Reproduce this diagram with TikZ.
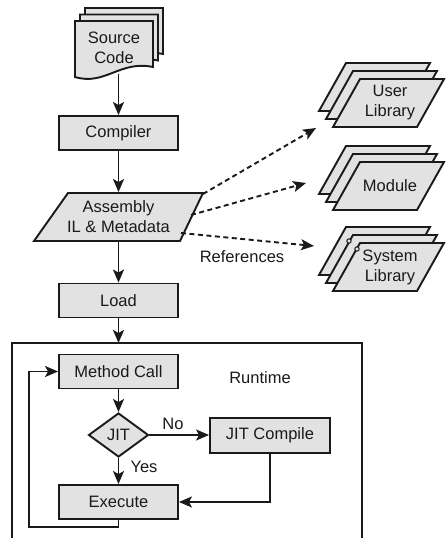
\documentclass[tikz,border=0pt]{standalone}
\usepackage{fontspec}
\setmainfont{Liberation Sans}
\usetikzlibrary{arrows.meta,shapes.geometric}
\definecolor{boxgray}{HTML}{E2E2E2}
\definecolor{ink}{HTML}{1A1A1A}
\begin{document}
\begin{tikzpicture}[x=1pt,y=-1pt,
  line width=1.9pt, draw=ink,
  every node/.style={font=\fontsize{16.5}{20}\selectfont, text=ink},
  box/.style={draw=ink, fill=boxgray, line width=1.9pt, minimum width=119pt, minimum height=34pt, inner sep=0pt},
  shapefill/.style={draw=ink, fill=boxgray, line width=1.9pt, line join=miter},
  lbl/.style={align=center, inner sep=0pt},
  arr/.style={draw=ink, line width=1.9pt, -{Stealth[length=13pt,width=11pt,inset=3pt]}},
  darr/.style={arr, dash pattern=on 5pt off 3.5pt}]
\useasboundingbox (0,0) rectangle (446,538);

% Source code document stack
\foreach \sx/\sy in {10/-13,5/-6.5,0/0}{
  \begin{scope}[shift={(\sx,\sy)}]
    \path[shapefill] (75,21) -- (153,21) -- (153,67)
      .. controls (120,60) and (105,86) .. (75,77) -- cycle;
  \end{scope}
}
\node[lbl, minimum width=78pt, minimum height=51pt] (src) at (114,47.5) {Source\\Code};

% main column
\node[box] (comp) at (118.5,133) {Compiler};
\path[shapefill] (68,193) coordinate (asmTL) -- (203,193) coordinate (asmTR)
  -- (180,241) coordinate (asmBR) -- (34,241) coordinate (asmBL) -- cycle;
\node[lbl, minimum height=48pt] (asm) at (118.5,217) {Assembly\\IL \& Metadata};
\node[box] (load) at (118.5,300.5) {Load};

% runtime frame
\draw[line width=1.9pt] (12,538) -- (12,343) -- (362,343) -- (362,538);
\coordinate (ft) at (118.5,343);
\node[lbl] (rt) at (260,378) {Runtime};

\node[box] (mc) at (118.5,371.5) {Method Call};
\node[diamond, draw=ink, fill=boxgray, line width=1.9pt, minimum width=60pt, minimum height=44pt, inner sep=0pt] (jit) at (118.5,435) {JIT};
\node[box, minimum width=120pt, minimum height=35pt] (jc) at (270,435.5) {JIT Compile};
\node[box] (exe) at (118.5,502) {Execute};
\node[lbl] (no) at (173,424) {No};
\node[lbl] (yes) at (144,467) {Yes};
\coordinate (lp) at (29,527);

% libraries
\foreach \dy in {0,83,164}{
  \foreach \ox/\oy in {-14/-16,-7/-8,0/0}{
    \begin{scope}[shift={(\ox,\oy+\dy)}]
      \path[shapefill] (360,79) -- (444,79) -- (417,127) -- (333,127) -- cycle;
    \end{scope}
  }
}
\draw[line width=1pt, fill=boxgray] (349,241) circle (2.2);
\draw[line width=1pt, fill=boxgray] (357,249) circle (2.2);
\node[lbl] (ul) at (390,103) {User\\Library};
\node[lbl] (mo) at (390,186) {Module};
\node[lbl] (sl) at (390,267) {System\\Library};
\node[lbl] (refs) at (242,257) {References};

\coordinate (a1) at (203,194);
\coordinate (a2) at (191,215);
\coordinate (a3) at (181,233);
\coordinate (t1) at (316,128);
\coordinate (t2) at (306,183);
\coordinate (t3) at (314,246);

% connectors
\draw[arr] (src.south -| comp.north) -- (comp.north);
\draw[arr] (comp.south) -- (asm.north);
\draw[arr] (asm.south) -- (load.north);
\draw[arr] (load.south) -- (ft);
\draw[arr] (mc.south) -- (jit.north);
\draw[arr] (jit.east) -- (jit.east -| jc.west);
\draw[arr] (jit.south) -- (exe.north);
\draw[arr] (jc.south) |- (exe.east);
\draw[arr] (exe.south) |- (lp) |- (mc.west);
\draw[darr] (a1) -- (t1);
\draw[darr] (a2) -- (t2);
\draw[darr] (a3) -- (t3);
\end{tikzpicture}
\end{document}
